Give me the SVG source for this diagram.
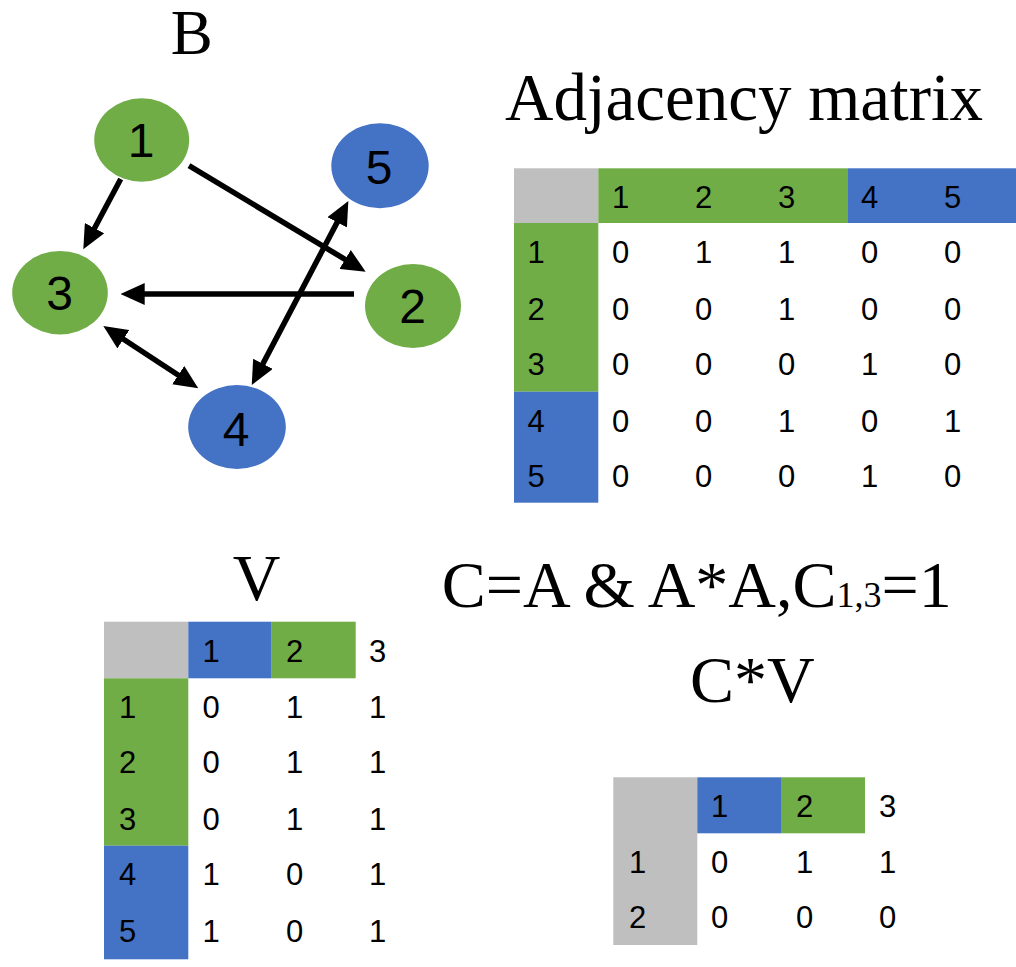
<svg xmlns="http://www.w3.org/2000/svg" width="1016" height="967" viewBox="0 0 1016 967">
<defs>
<marker id="ah" markerUnits="userSpaceOnUse" markerWidth="24" markerHeight="22" refX="14" refY="11" orient="auto-start-reverse" viewBox="0 0 24 22">
<path d="M0,0 L24,11 L0,22 z" fill="#000"/>
</marker>
</defs>
<style>
.g{fill:#70AD47}
.b{fill:#4472C4}
.gr{fill:#BFBFBF}
.t{font-family:"Liberation Serif","Times New Roman",serif;font-size:66px;fill:#000}
.n{font-family:"Liberation Sans",Arial,sans-serif;font-size:48px;fill:#000;text-anchor:middle}
.c{font-family:"Liberation Sans",Arial,sans-serif;font-size:31px;fill:#000}
.e{stroke:#000;stroke-width:5.5;fill:none;marker-end:url(#ah)}
.e2{stroke:#000;stroke-width:5.5;fill:none;marker-end:url(#ah);marker-start:url(#ah)}
</style>
<rect width="1016" height="967" fill="#fff"/>

<text class="t" x="191.7" y="54" text-anchor="middle" style="font-size:63px">B</text>

<g id="connectors">
<line class="e" x1="120.7" y1="179" x2="88" y2="240.5"/>
<line class="e" x1="189" y1="165.7" x2="357.1" y2="266.6"/>
<line class="e" x1="354" y1="294" x2="130.7" y2="294"/>
<line class="e2" x1="111.7" y1="331.5" x2="189.9" y2="382.8"/>
<line class="e2" x1="343.7" y1="209.9" x2="256.4" y2="376.2"/>
</g>

<g id="node1"><ellipse class="g" cx="141.7" cy="140" rx="47.5" ry="41.7"/><text class="n" x="141" y="157">1</text></g>
<g id="node5"><ellipse class="b" cx="380" cy="165.7" rx="48.7" ry="42.5"/><text class="n" x="379" y="183.5">5</text></g>
<g id="node3"><ellipse class="g" cx="60" cy="292.7" rx="47.8" ry="41.8"/><text class="n" x="59.5" y="310">3</text></g>
<g id="node2"><ellipse class="g" cx="413" cy="306" rx="48" ry="42"/><text class="n" x="412.5" y="323">2</text></g>
<g id="node4"><ellipse class="b" cx="237" cy="427" rx="48.8" ry="42"/><text class="n" x="236" y="446">4</text></g>

<g id="adjacency">
<text class="t" x="505" y="120" style="font-size:67px">Adjacency matrix</text>
<rect class="gr" x="514" y="168.3" width="84.3" height="54.7"/>
<rect class="g" x="598.3" y="168.3" width="249.7" height="54.7"/>
<rect class="b" x="848" y="168.3" width="168" height="54.7"/>
<rect class="g" x="514" y="223" width="84.3" height="168.7"/>
<rect class="b" x="514" y="391.7" width="84.3" height="111"/>
<g class="c">
<text x="612" y="208.3">1</text><text x="695" y="208.3">2</text><text x="778" y="208.3">3</text><text x="861" y="208.3">4</text><text x="944" y="208.3">5</text>
<text x="527.5" y="263.3">1</text><text x="612" y="263.3">0</text><text x="695" y="263.3">1</text><text x="778" y="263.3">1</text><text x="861" y="263.3">0</text><text x="944" y="263.3">0</text>
<text x="527.5" y="320">2</text><text x="612" y="320">0</text><text x="695" y="320">0</text><text x="778" y="320">1</text><text x="861" y="320">0</text><text x="944" y="320">0</text>
<text x="527.5" y="375">3</text><text x="612" y="375">0</text><text x="695" y="375">0</text><text x="778" y="375">0</text><text x="861" y="375">1</text><text x="944" y="375">0</text>
<text x="527.5" y="431.7">4</text><text x="612" y="431.7">0</text><text x="695" y="431.7">0</text><text x="778" y="431.7">1</text><text x="861" y="431.7">0</text><text x="944" y="431.7">1</text>
<text x="527.5" y="487.3">5</text><text x="612" y="487.3">0</text><text x="695" y="487.3">0</text><text x="778" y="487.3">0</text><text x="861" y="487.3">1</text><text x="944" y="487.3">0</text>
</g>
</g>

<g id="vmatrix">
<text class="t" x="256.7" y="600" text-anchor="middle">V</text>
<rect class="gr" x="104" y="621.7" width="84.3" height="56.6"/>
<rect class="b" x="188.3" y="621.7" width="83.4" height="56.6"/>
<rect class="g" x="271.7" y="621.7" width="84" height="56.6"/>
<rect class="g" x="104" y="678.3" width="84.3" height="167.4"/>
<rect class="b" x="104" y="845.7" width="84.3" height="113.6"/>
<g class="c">
<text x="202.5" y="661.7">1</text><text x="286" y="661.7">2</text><text x="369" y="661.7">3</text>
<text x="119" y="718.3">1</text><text x="202.5" y="718.3">0</text><text x="286" y="718.3">1</text><text x="369" y="718.3">1</text>
<text x="119" y="773.3">2</text><text x="202.5" y="773.3">0</text><text x="286" y="773.3">1</text><text x="369" y="773.3">1</text>
<text x="119" y="830">3</text><text x="202.5" y="830">0</text><text x="286" y="830">1</text><text x="369" y="830">1</text>
<text x="119" y="885">4</text><text x="202.5" y="885">1</text><text x="286" y="885">0</text><text x="369" y="885">1</text>
<text x="119" y="941.7">5</text><text x="202.5" y="941.7">1</text><text x="286" y="941.7">0</text><text x="369" y="941.7">1</text>
</g>
</g>

<g id="formula">
<text class="t" x="441.7" y="606.7">C=A &amp; A*A,C<tspan style="font-size:36px">1,3</tspan>=1</text>
<text class="t" x="690" y="701.7">C*V</text>
</g>

<g id="result">
<rect class="gr" x="613.3" y="777.3" width="84" height="167.7"/>
<rect class="b" x="697.3" y="777.3" width="83.7" height="56"/>
<rect class="g" x="781" y="777.3" width="84" height="56"/>
<g class="c">
<text x="711" y="816.7">1</text><text x="796" y="816.7">2</text><text x="879" y="816.7">3</text>
<text x="629" y="873.3">1</text><text x="711" y="873.3">0</text><text x="796" y="873.3">1</text><text x="879" y="873.3">1</text>
<text x="629" y="928.3">2</text><text x="711" y="928.3">0</text><text x="796" y="928.3">0</text><text x="879" y="928.3">0</text>
</g>
</g>
</svg>
